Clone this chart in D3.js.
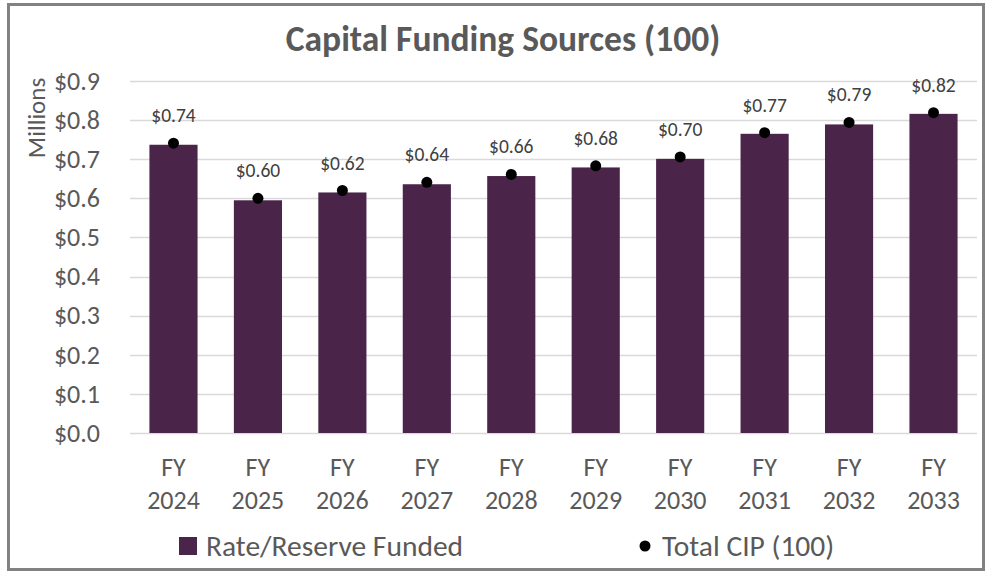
<!DOCTYPE html>
<html>
<head>
<meta charset="utf-8">
<script src="https://cdn.jsdelivr.net/npm/d3@7"></script>
<style>
  body { margin: 0; background: #fff; }
  svg text { font-family: Carlito, Lato, "Open Sans", sans-serif; }
</style>
</head>
<body>
<svg id="chart" width="989" height="573"></svg>
<script>
// data (in millions)
const years = ["2024", "2025", "2026", "2027", "2028", "2029", "2030", "2031", "2032", "2033"];
const rateReserve = [0.737, 0.595, 0.615, 0.636, 0.657, 0.679, 0.701, 0.765, 0.789, 0.816];
const totalCIP = [0.741, 0.600, 0.620, 0.641, 0.661, 0.683, 0.706, 0.768, 0.794, 0.819];
const totalLabels = ["$0.74", "$0.60", "$0.62", "$0.64", "$0.66", "$0.68", "$0.70", "$0.77", "$0.79", "$0.82"];
const yTicks = [0, 0.1, 0.2, 0.3, 0.4, 0.5, 0.6, 0.7, 0.8, 0.9];

const svg = d3.select("#chart");
const W = 989, H = 573;
const margin = {left: 130, right: 12, top: 81, bottom: 140};

// outer frame
svg.append("rect")
    .attr("x", 8.5).attr("y", 4.5)
    .attr("width", W - 14).attr("height", H - 8)
    .attr("fill", "#fff")
    .attr("stroke", "#828282")
    .attr("stroke-width", 3);

const x = d3.scaleBand()
    .domain(years)
    .range([margin.left, W - margin.right])
    .paddingInner(0.43)
    .paddingOuter(0.23);

const y = d3.scaleLinear()
    .domain([0, 0.9])
    .range([H - margin.bottom, margin.top]);

// gridlines
svg.append("g").selectAll("line")
    .data(yTicks)
    .join("line")
    .attr("x1", margin.left).attr("x2", W - margin.right)
    .attr("y1", d => Math.round(y(d)) + 0.5)
    .attr("y2", d => Math.round(y(d)) + 0.5)
    .attr("stroke", "#d9d9d9")
    .attr("stroke-width", 1.3);

// y axis labels
const yAxis = svg.append("g")
    .attr("transform", "translate(100,0)")
    .call(d3.axisLeft(y).tickValues(yTicks).tickSize(0).tickPadding(0)
        .tickFormat(d => "$" + d3.format(".1f")(d)));
yAxis.select(".domain").remove();
yAxis.selectAll("text")
    .attr("font-size", 26)
    .attr("fill", "#595959");

svg.append("text")
    .attr("transform", "translate(45,118) rotate(-90)")
    .attr("text-anchor", "middle")
    .attr("font-size", 25)
    .attr("fill", "#595959")
    .text("Millions");

// bars
svg.append("g").selectAll("rect")
    .data(years)
    .join("rect")
    .attr("x", d => x(d))
    .attr("width", x.bandwidth())
    .attr("y", (d, i) => y(rateReserve[i]))
    .attr("height", (d, i) => y(0) - y(rateReserve[i]))
    .attr("fill", "#4a2549");

// total CIP dots
svg.append("g").selectAll("circle")
    .data(years)
    .join("circle")
    .attr("cx", d => x(d) + x.bandwidth() / 2)
    .attr("cy", (d, i) => y(totalCIP[i]))
    .attr("r", 5.5)
    .attr("fill", "#000");

// data labels
svg.append("g").selectAll("text")
    .data(years)
    .join("text")
    .attr("x", d => x(d) + x.bandwidth() / 2)
    .attr("y", (d, i) => y(totalCIP[i]) - 21)
    .attr("text-anchor", "middle")
    .attr("font-size", 19.5)
    .attr("fill", "#404040")
    .text((d, i) => totalLabels[i]);

// x axis labels
const xl = svg.append("g").selectAll("text")
    .data(years)
    .join("text")
    .attr("text-anchor", "middle")
    .attr("font-size", 26)
    .attr("fill", "#595959");
xl.append("tspan")
    .attr("x", d => x(d) + x.bandwidth() / 2)
    .attr("y", 476)
    .text("FY");
xl.append("tspan")
    .attr("x", d => x(d) + x.bandwidth() / 2)
    .attr("y", 509)
    .text(d => d);

// title
svg.append("text")
    .attr("x", 503).attr("y", 51)
    .attr("text-anchor", "middle")
    .attr("font-size", 35.5)
    .attr("font-weight", "bold")
    .attr("fill", "#595959")
    .text("Capital Funding Sources (100)");

// legend
const leg = svg.append("g");
leg.append("rect")
    .attr("x", 179).attr("y", 537)
    .attr("width", 18).attr("height", 18)
    .attr("fill", "#4a2549");
leg.append("text")
    .attr("x", 206).attr("y", 556)
    .attr("font-size", 29.5)
    .attr("fill", "#595959")
    .text("Rate/Reserve Funded");
leg.append("circle")
    .attr("cx", 645).attr("cy", 546)
    .attr("r", 5.5)
    .attr("fill", "#000");
leg.append("text")
    .attr("x", 662).attr("y", 556)
    .attr("font-size", 29.5)
    .attr("fill", "#595959")
    .text("Total CIP (100)");
</script>
</body>
</html>
